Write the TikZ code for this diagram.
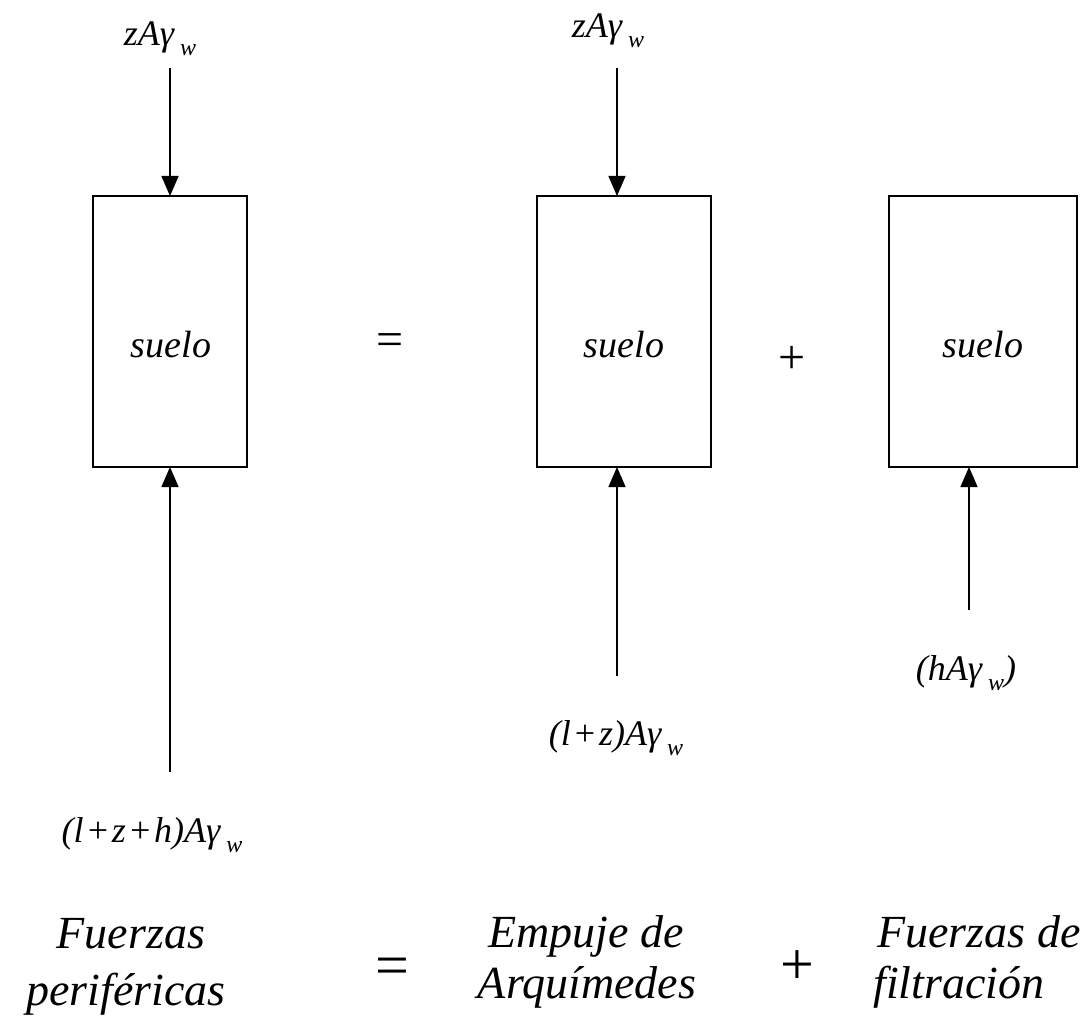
\documentclass[tikz,border=0pt]{standalone}
\usepackage{fontspec}
\setmainfont{Liberation Serif}
\usetikzlibrary{arrows.meta}
\newcommand{\gw}{γ\kern6pt\raisebox{-10pt}{\fontsize{24}{24}\selectfont w}}
\begin{document}
\begin{tikzpicture}[x=1pt,y=-1pt,
  soil/.style={draw,line width=1.4pt},
  force/.style={line width=1.3pt,-{Triangle[width=17pt,length=20pt]}},
  lab/.style={font=\fontsize{36}{36}\selectfont\itshape,inner sep=0pt,anchor=base},
  soiltext/.style={font=\fontsize{38}{38}\selectfont\itshape,inner sep=0pt,anchor=base},
  big/.style={font=\fontsize{46}{57}\selectfont\itshape,inner sep=0pt,anchor=base},
  sym/.style={font=\fontsize{48}{48}\selectfont,inner sep=0pt},
  bigsym/.style={font=\fontsize{60}{60}\selectfont,inner sep=0pt}]
\useasboundingbox (0,0) rectangle (1088,1019);
% boxes
\draw[soil] (93,196) rectangle (247,467);
\draw[soil] (537,196) rectangle (711,467);
\draw[soil] (889,196) rectangle (1077,467);
\coordinate (b1t) at (170,196); \coordinate (b1b) at (170,467);
\coordinate (b2t) at (617,196); \coordinate (b2b) at (617,467);
\coordinate (b3b) at (969,467);
\node[soiltext] (s1) at (171,357) {suelo};
\node[soiltext] (s2) at (624,357) {suelo};
\node[soiltext] (s3) at (983,357) {suelo};
% top forces
\coordinate (t1) at (170,68);
\coordinate (t2) at (617,68);
\draw[force] (t1) -- (b1t);
\draw[force] (t2) -- (b2t);
\node[lab] (l1) at (160,46) {zA\gw};
\node[lab] (l2) at (608,38) {zA\gw};
% bottom forces
\coordinate (u1) at (170,772);
\coordinate (u2) at (617,676);
\coordinate (u3) at (969,610);
\draw[force] (u1) -- (b1b);
\draw[force] (u2) -- (b2b);
\draw[force] (u3) -- (b3b);
\node[lab] (l3) at (152,842) {(l\kern2pt+\kern2pt z\kern2pt+\kern2pt h)A\gw};
\node[lab] (l4) at (616,745) {(l\kern2pt+\kern2pt z)A\gw};
\node[lab] (l5) at (966,680) {(hA\gw)};
% operators
\node[sym] (eq1) at (390,345) {=};
\node[sym] (pl1) at (792,360) {+};
% bottom text
\node[big] (f1a) at (131,948) {Fuerzas};
\node[big] (f1b) at (126,1005) {periféricas};
\node[bigsym] (eq2) at (392,972) {=};
\node[big] (f2a) at (586,947) {Empuje de};
\node[big] (f2b) at (587,998) {Arquímedes};
\node[bigsym] (pl2) at (797,968) {+};
\node[big] (f3a) at (979,947) {Fuerzas de};
\node[big] (f3b) at (959,998) {filtración};
\end{tikzpicture}
\end{document}
